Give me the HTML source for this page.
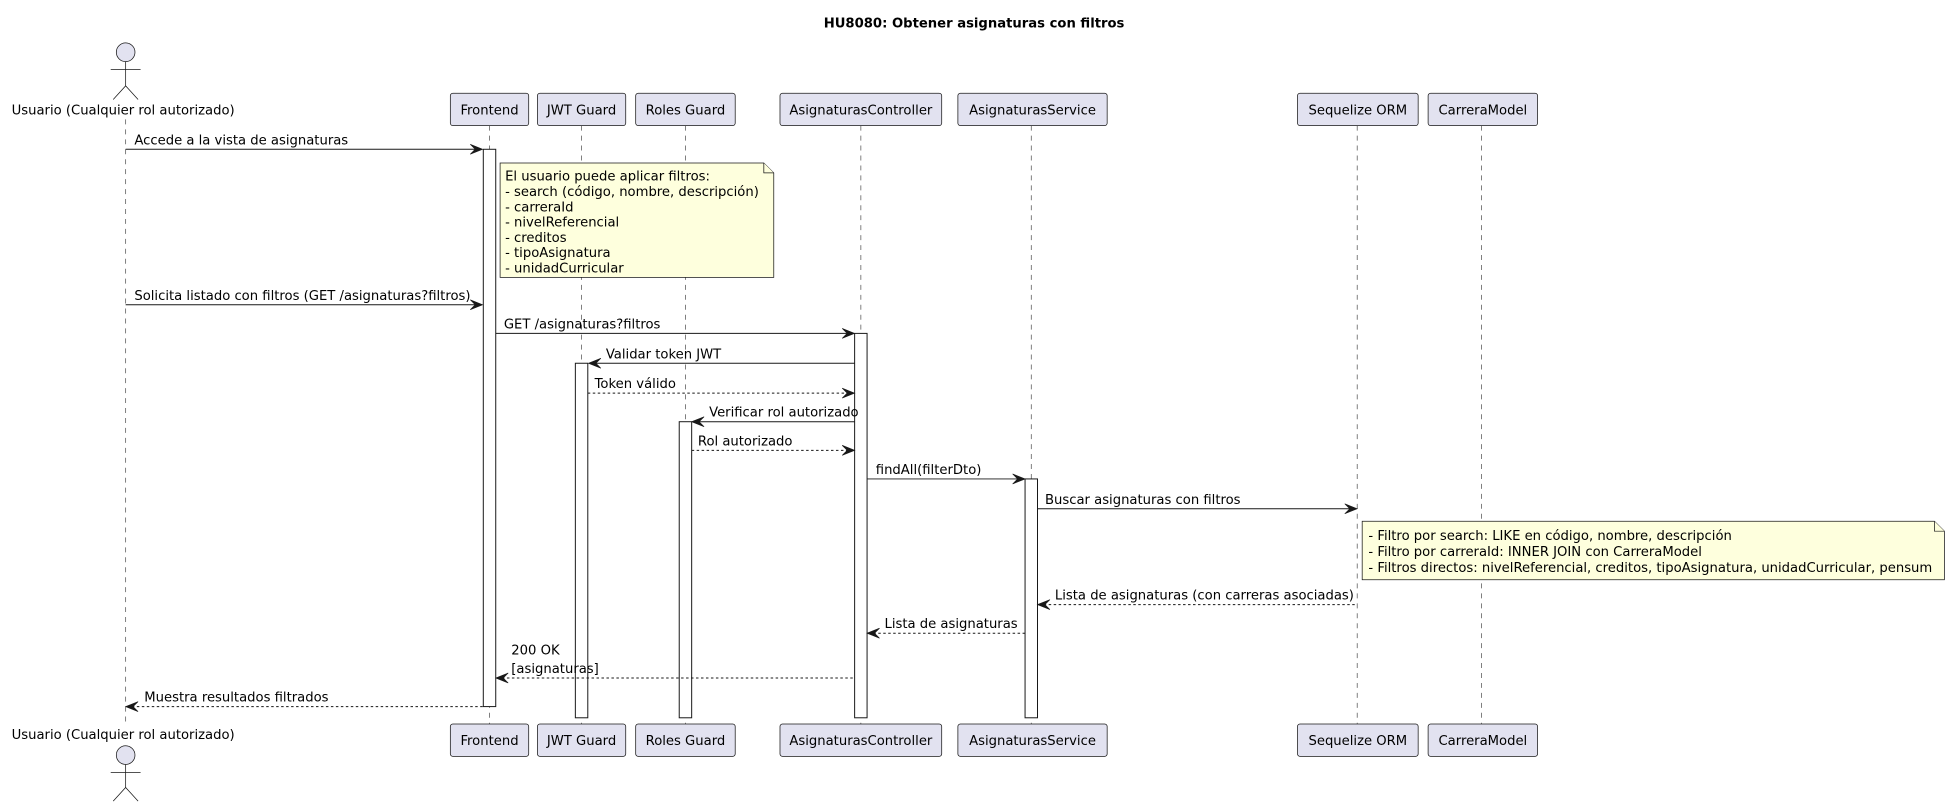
<!DOCTYPE html>
<html><head><meta charset="utf-8"><style>
html,body{margin:0;padding:0;background:#fff;}
svg{display:block;}
text{font-family:"DejaVu Sans","Liberation Sans",sans-serif;font-size:10.6px;fill:#000;}
.box{fill:#E2E2F0;stroke:#181818;stroke-width:0.6;}
.life{stroke:#555;stroke-width:0.6;stroke-dasharray:4,4;}
.act{fill:#fff;stroke:#181818;stroke-width:0.8;}
.m{stroke:#181818;stroke-width:0.8;fill:none;}
.d{stroke:#181818;stroke-width:0.8;fill:none;stroke-dasharray:2,2;}
.ah{fill:#181818;stroke:#181818;stroke-width:0.5;}
.note{fill:#FEFFDD;stroke:#181818;stroke-width:0.6;}
.fig{fill:none;stroke:#181818;stroke-width:0.6;}
</style></head><body>
<svg width="1945" height="803" viewBox="0 0 1563.5 645.5" xmlns="http://www.w3.org/2000/svg">
<text x="783" y="22" text-anchor="middle" font-weight="bold">HU8080: Obtener asignaturas con filtros</text>

<line class="life" x1="101" y1="96" x2="101" y2="580"/>
<line class="life" x1="393.5" y1="101" x2="393.5" y2="582"/>
<line class="life" x1="467.5" y1="101" x2="467.5" y2="582"/>
<line class="life" x1="551" y1="101" x2="551" y2="582"/>
<line class="life" x1="692" y1="101" x2="692" y2="582"/>
<line class="life" x1="829" y1="101" x2="829" y2="582"/>
<line class="life" x1="1091" y1="101" x2="1091" y2="582"/>
<line class="life" x1="1191" y1="101" x2="1191" y2="582"/>

<circle cx="101" cy="42" r="7.5" fill="#E2E2F0" stroke="#181818" stroke-width="0.6"/>
<line class="fig" x1="101" y1="49.5" x2="101" y2="69"/>
<line class="fig" x1="89" y1="56" x2="113" y2="56"/>
<polyline class="fig" points="91,80 101,69 111,80"/>
<text x="99" y="92" text-anchor="middle">Usuario (Cualquier rol autorizado)</text>

<rect class="box" x="362" y="75" width="63" height="26" rx="2"/><text x="393.5" y="92" text-anchor="middle">Frontend</text>
<rect class="box" x="432" y="75" width="71" height="26" rx="2"/><text x="467.5" y="92" text-anchor="middle">JWT Guard</text>
<rect class="box" x="511" y="75" width="80" height="26" rx="2"/><text x="551" y="92" text-anchor="middle">Roles Guard</text>
<rect class="box" x="627" y="75" width="130" height="26" rx="2"/><text x="692" y="92" text-anchor="middle">AsignaturasController</text>
<rect class="box" x="770" y="75" width="120" height="26" rx="2"/><text x="830" y="92" text-anchor="middle">AsignaturasService</text>
<rect class="box" x="1043" y="75" width="97" height="26" rx="2"/><text x="1091.5" y="92" text-anchor="middle">Sequelize ORM</text>
<rect class="box" x="1148" y="75" width="88" height="26" rx="2"/><text x="1192" y="92" text-anchor="middle">CarreraModel</text>

<rect class="box" x="362" y="582" width="63" height="26" rx="2"/><text x="393.5" y="599" text-anchor="middle">Frontend</text>
<rect class="box" x="432" y="582" width="71" height="26" rx="2"/><text x="467.5" y="599" text-anchor="middle">JWT Guard</text>
<rect class="box" x="511" y="582" width="80" height="26" rx="2"/><text x="551" y="599" text-anchor="middle">Roles Guard</text>
<rect class="box" x="627" y="582" width="130" height="26" rx="2"/><text x="692" y="599" text-anchor="middle">AsignaturasController</text>
<rect class="box" x="770" y="582" width="120" height="26" rx="2"/><text x="830" y="599" text-anchor="middle">AsignaturasService</text>
<rect class="box" x="1043" y="582" width="97" height="26" rx="2"/><text x="1091.5" y="599" text-anchor="middle">Sequelize ORM</text>
<rect class="box" x="1148" y="582" width="88" height="26" rx="2"/><text x="1192" y="599" text-anchor="middle">CarreraModel</text>

<text x="99" y="594" text-anchor="middle">Usuario (Cualquier rol autorizado)</text>
<circle cx="101" cy="607" r="7.5" fill="#E2E2F0" stroke="#181818" stroke-width="0.6"/>
<line class="fig" x1="101" y1="614.5" x2="101" y2="633"/>
<line class="fig" x1="89" y1="621" x2="113" y2="621"/>
<polyline class="fig" points="91,644 101,633 111,644"/>

<rect class="act" x="388.5" y="120" width="10" height="448"/>
<rect class="act" x="687" y="268" width="10" height="309"/>
<rect class="act" x="462.5" y="292" width="10" height="285"/>
<rect class="act" x="546" y="339" width="10" height="238"/>
<rect class="act" x="824" y="385" width="10" height="192"/>

<path class="note" d="M402,131 H614 L622,139 V223 H402 Z"/>
<path class="note" d="M614,131 V139 H622" fill="none"/>
<text x="406" y="145">El usuario puede aplicar filtros:</text>
<text x="406" y="157.5">- search (código, nombre, descripción)</text>
<text x="406" y="170">- carreraId</text>
<text x="406" y="182">- nivelReferencial</text>
<text x="406" y="194.5">- creditos</text>
<text x="406" y="206.5">- tipoAsignatura</text>
<text x="406" y="219">- unidadCurricular</text>

<path class="note" d="M1095,419 H1555 L1563,427 V466 H1095 Z"/>
<path class="note" d="M1555,419 V427 H1563" fill="none"/>
<text x="1100" y="434">- Filtro por search: LIKE en código, nombre, descripción</text>
<text x="1100" y="447">- Filtro por carreraId: INNER JOIN con CarreraModel</text>
<text x="1100" y="460">- Filtros directos: nivelReferencial, creditos, tipoAsignatura, unidadCurricular, pensum</text>

<line class="m" x1="101" y1="120" x2="387" y2="120"/><polygon class="ah" points="388,120 378,116 382,120 378,124"/>
<text x="108" y="116">Accede a la vista de asignaturas</text>

<line class="m" x1="101" y1="245" x2="387" y2="245"/><polygon class="ah" points="388,245 378,241 382,245 378,249"/>
<text x="108" y="241">Solicita listado con filtros (GET /asignaturas?filtros)</text>

<line class="m" x1="398.5" y1="268" x2="686" y2="268"/><polygon class="ah" points="687,268 677,264 681,268 677,272"/>
<text x="405" y="264">GET /asignaturas?filtros</text>

<line class="m" x1="474" y1="292" x2="687" y2="292"/><polygon class="ah" points="473,292 483,288 479,292 483,296"/>
<text x="487" y="288">Validar token JWT</text>

<line class="d" x1="472.5" y1="316" x2="686" y2="316"/><polygon class="ah" points="687,316 677,312 681,316 677,320"/>
<text x="478" y="312">Token válido</text>

<line class="m" x1="557" y1="339" x2="687" y2="339"/><polygon class="ah" points="556,339 566,335 562,339 566,343"/>
<text x="570" y="335">Verificar rol autorizado</text>

<line class="d" x1="556" y1="362" x2="686" y2="362"/><polygon class="ah" points="687,362 677,358 681,362 677,366"/>
<text x="561" y="358">Rol autorizado</text>

<line class="m" x1="697" y1="385" x2="823" y2="385"/><polygon class="ah" points="824,385 814,381 818,385 814,389"/>
<text x="704" y="381">findAll(filterDto)</text>

<line class="m" x1="834" y1="409" x2="1090" y2="409"/><polygon class="ah" points="1091,409 1081,405 1085,409 1081,413"/>
<text x="840" y="405">Buscar asignaturas con filtros</text>

<line class="d" x1="835" y1="486" x2="1091" y2="486"/><polygon class="ah" points="834,486 844,482 840,486 844,490"/>
<text x="848" y="482">Lista de asignaturas (con carreras asociadas)</text>

<line class="d" x1="698" y1="509" x2="824" y2="509"/><polygon class="ah" points="697,509 707,505 703,509 707,513"/>
<text x="711" y="505">Lista de asignaturas</text>

<line class="d" x1="399.5" y1="545" x2="687" y2="545"/><polygon class="ah" points="398.5,545 408.5,541 404.5,545 408.5,549"/>
<text x="411" y="526">200 OK</text>
<text x="411" y="541">[asignaturas]</text>

<line class="d" x1="102" y1="568" x2="388.5" y2="568"/><polygon class="ah" points="101,568 111,564 107,568 111,572"/>
<text x="116" y="564">Muestra resultados filtrados</text>
</svg>
</body></html>
